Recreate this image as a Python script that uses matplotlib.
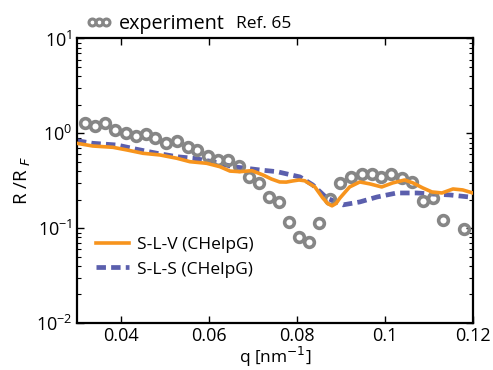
import numpy as np
import matplotlib.pyplot as plt
from matplotlib.lines import Line2D
from matplotlib.ticker import LogLocator, NullFormatter

plt.rcParams['font.family'] = ['Open Sans', 'DejaVu Sans']

# measured reflectivity (Ref. 65)
q_exp = [0.0318, 0.0341, 0.0365, 0.0386, 0.0411, 0.0434, 0.0456, 0.0477, 0.0502,
         0.0527, 0.0552, 0.0574, 0.0598, 0.0621, 0.0644, 0.0669, 0.0692, 0.0714,
         0.0737, 0.0760, 0.0782, 0.0806, 0.0828, 0.0851, 0.0876, 0.0899, 0.0923,
         0.0947, 0.0970, 0.0992, 0.1015, 0.1040, 0.1062, 0.1086, 0.1110, 0.1132,
         0.1180]
r_exp = [1.27, 1.20, 1.27, 1.08, 1.00, 0.94, 0.98, 0.885, 0.785,
         0.83, 0.72, 0.667, 0.577, 0.523, 0.523, 0.453, 0.344, 0.298,
         0.215, 0.19, 0.116, 0.081, 0.072, 0.114, 0.202, 0.298, 0.348,
         0.373, 0.373, 0.344, 0.373, 0.336, 0.31, 0.195, 0.207, 0.122,
         0.098]

# S-L-V model
q_slv = [0.0300, 0.0336, 0.0382, 0.0414, 0.0450, 0.0489, 0.0527, 0.0557, 0.0595,
         0.0625, 0.0648, 0.0670, 0.0698, 0.0723, 0.0742, 0.0761, 0.0776, 0.0791,
         0.0805, 0.0818, 0.0841, 0.0859, 0.0870, 0.0880, 0.0889, 0.0898, 0.0920,
         0.0943, 0.0966, 0.0993, 0.1018, 0.1045, 0.1064, 0.1086, 0.1107, 0.1130,
         0.1155, 0.1177, 0.1200]
r_slv = [0.785, 0.735, 0.712, 0.667, 0.616, 0.591, 0.546, 0.502, 0.483,
         0.445, 0.400, 0.394, 0.404, 0.364, 0.330, 0.307, 0.306, 0.315,
         0.322, 0.316, 0.272, 0.208, 0.182, 0.172, 0.182, 0.208, 0.272,
         0.307, 0.293, 0.272, 0.300, 0.322, 0.300, 0.266, 0.241, 0.235,
         0.259, 0.253, 0.235]

# S-L-S model
q_sls = [0.0300, 0.0336, 0.0391, 0.0436, 0.0482, 0.0527, 0.0564, 0.0609, 0.0655,
         0.0716, 0.0755, 0.0807, 0.0836, 0.0868, 0.0905, 0.0943, 0.0982, 0.1027,
         0.1073, 0.1109, 0.1148, 0.1193]
r_sls = [0.836, 0.785, 0.753, 0.679, 0.616, 0.567, 0.546, 0.502, 0.445,
         0.411, 0.394, 0.347, 0.286, 0.208, 0.176, 0.189, 0.213, 0.235,
         0.235, 0.229, 0.224, 0.213]

fig = plt.figure(figsize=(4.93, 3.70), dpi=100)
ax = fig.add_axes([0.156, 0.127, 0.803, 0.769])

gray = '#868686'
orange = '#f7941d'
blue = '#5b5fad'

ax.plot(q_exp, r_exp, 'o', ms=7, mfc='none', mec=gray, mew=2.6, zorder=3)
ax.plot(q_slv, r_slv, '-', color=orange, lw=2.6, solid_joinstyle='round',
        label='S-L-V (CHelpG)', zorder=4)
ax.plot(q_sls, r_sls, '--', color=blue, lw=3.4, dashes=(2.0, 1.1),
        label='S-L-S (CHelpG)', zorder=2)

ax.set_yscale('log')
ax.set_xlim(0.03, 0.12)
ax.set_ylim(1e-2, 1e1)
ax.set_xticks([0.04, 0.06, 0.08, 0.1, 0.12])
ax.set_xticklabels(['0.04', '0.06', '0.08', '0.1', '0.12'])
ax.yaxis.set_minor_locator(LogLocator(base=10, subs=np.arange(2, 10)))
ax.yaxis.set_minor_formatter(NullFormatter())
ax.tick_params(which='both', direction='in', top=True, right=True, labelsize=13)
ax.tick_params(axis='x', pad=3)
ax.tick_params(which='major', length=5, width=1)
ax.tick_params(which='minor', length=3, width=0.8)
for s in ax.spines.values():
    s.set_linewidth(1.6)

ax.set_xlabel('q [nm$^{-1}$]', fontsize=12.5, labelpad=0)
ax.set_ylabel('R /R$_{\\ F}$', fontsize=13.5, labelpad=2)

ax.legend(loc='lower left', bbox_to_anchor=(0.01, 0.105), frameon=False,
          fontsize=12.5, handlelength=1.9, handletextpad=0.45, labelspacing=0.5)

# experiment key above the frame
exp_key = Line2D([], [], ls='none', marker='o', ms=5, mfc='none', mec=gray, mew=2.2)
fig.legend([exp_key], ['experiment'], loc='center left', bbox_to_anchor=(0.155, 0.935),
           frameon=False, numpoints=3, fontsize=14.2, handlelength=1.3,
           handletextpad=0.35, borderpad=0, markerscale=1)
fig.text(0.478, 0.935, 'Ref. 65', fontsize=12.5, va='center', ha='left')

fig.savefig('out.png', dpi=100)
